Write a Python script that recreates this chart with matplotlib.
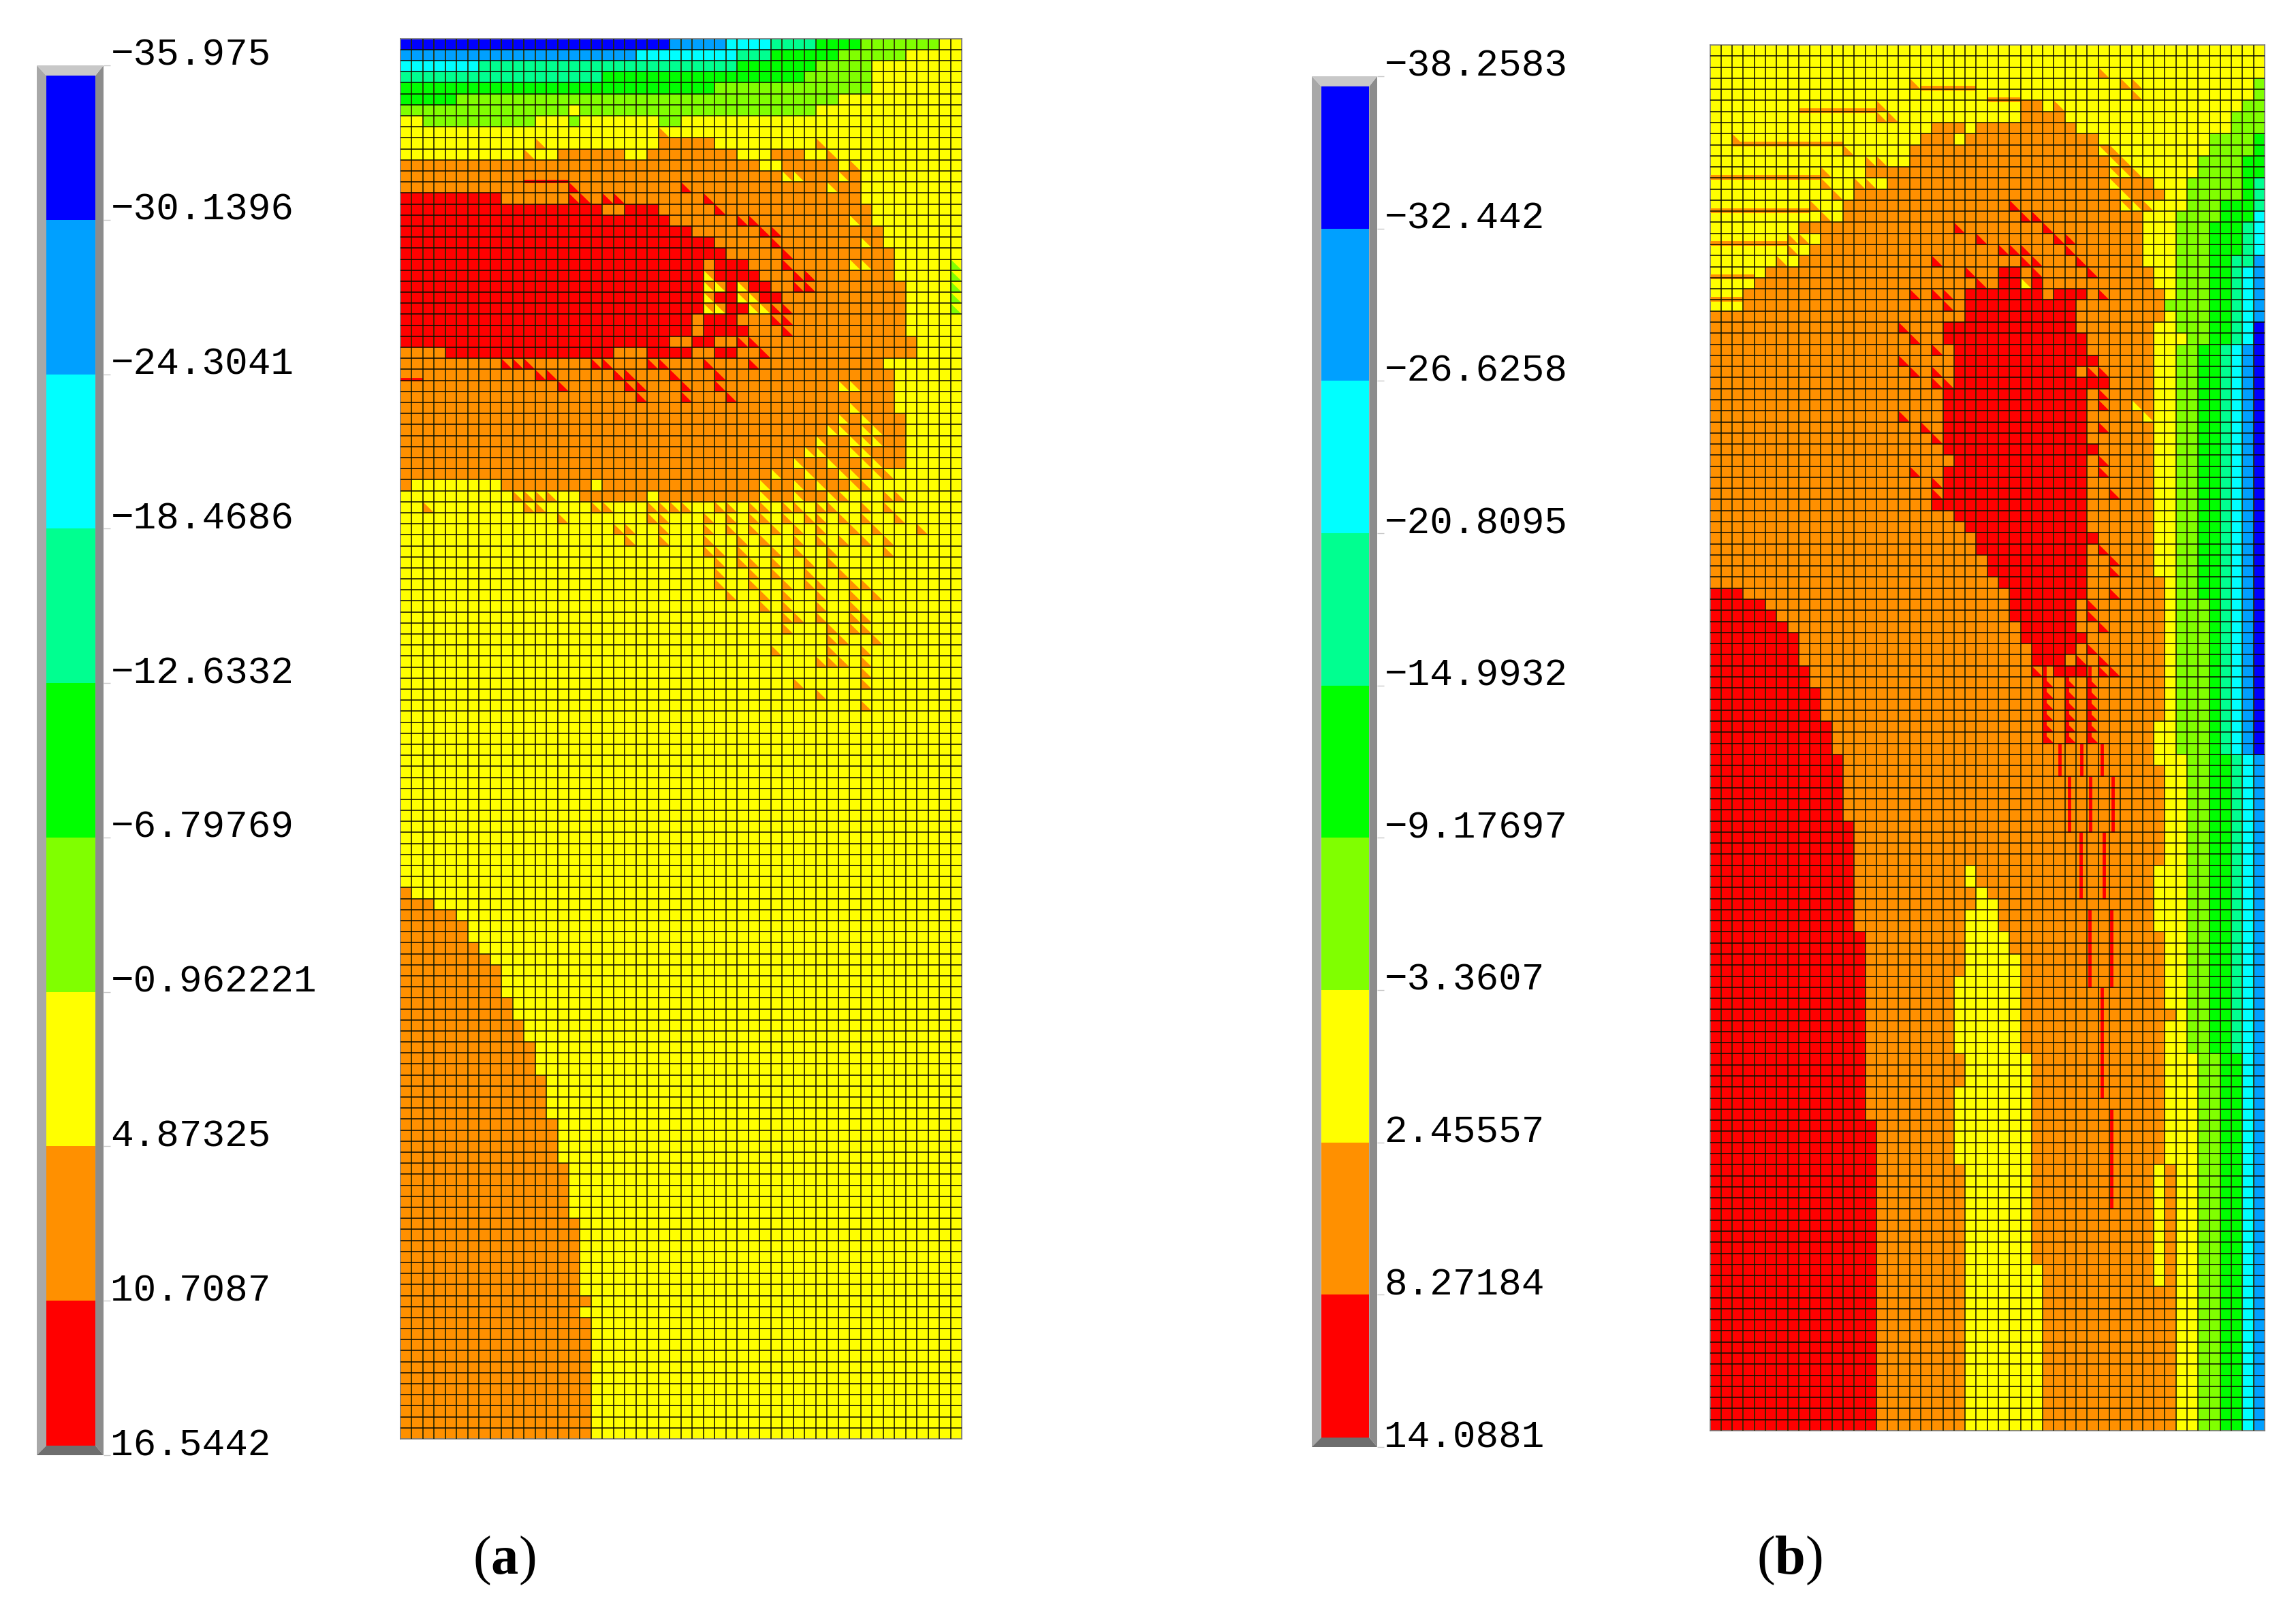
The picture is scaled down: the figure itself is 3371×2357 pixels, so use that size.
import numpy as np
import matplotlib
matplotlib.use("Agg")
import matplotlib.pyplot as plt
from matplotlib.colors import ListedColormap
from matplotlib.collections import PolyCollection

W, H = 3371, 2357

# Contour band codes, red (highest) to blue (lowest)
codes = "ROYLGSCAB"
band_colors = ["#ff0000", "#ff9000", "#ffff00", "#80ff00", "#00ff00",
               "#00ff90", "#00ffff", "#00a0ff", "#0000ff"]
# lower case run = cell with a corner wedge of that band on the given background
wedge_bg = {"r": "O", "o": "Y", "y": "O", "l": "Y"}

labels_a = ["\u221235.975", "\u221230.1396", "\u221224.3041", "\u221218.4686", "\u221212.6332",
            "\u22126.79769", "\u22120.962221", "4.87325", "10.7087", "16.5442"]
levels_a = [-35.975, -30.1396, -24.3041, -18.4686, -12.6332,
            -6.79769, -0.962221, 4.87325, 10.7087, 16.5442]
labels_b = ["\u221238.2583", "\u221232.442", "\u221226.6258", "\u221220.8095", "\u221214.9932",
            "\u22129.17697", "\u22123.3607", "2.45557", "8.27184", "14.0881"]
levels_b = [-38.2583, -32.442, -26.6258, -20.8095, -14.9932,
            -9.17697, -3.3607, 2.45557, 8.27184, 14.0881]

# Cell bands per mesh row, as runs from the left. Anything left over is yellow.
rows_a = [
    "B24 A5 C4 S4 G4 L7", "A21 C9 S3 G6 L6", "C7 S23 G7 L5", "S18 G18 L6", "G28 L14",
    "G5 L34", "L15 Y1 L21", "Y2 L10 Y3 L1 Y7 L2", "Y23 o1", "Y12 o1 Y10 O5 Y9 o1",
    "Y11 o1 Y2 O6 Y2 O8 Y3 O3 Y2 o1", "O32 Y2 O5 Y1 o1", "O34 y2 O3 y1 O1",
    "O15 r1 O9 r1 O12 y1 O2", "R9 O6 r2 O1 r2 O7 r1 O13",
    "R18 O2 R3 O5 r1 O13", "R24 O6 r2 O8 y1 O1", "R26 O6 r2 O9", "R28 O5 r1 O7 y1 O1",
    "R29 O5 r1 O9", "R27 O1 R3 O3 r1 O5 y2 O2 Y5 l1", "R27 y1 R4 O3 r2 O7 Y5 l1",
    "R27 y2 R1 y1 R2 O2 r2 O8 Y4 l1", "R27 y1 R2 y2 R2 O11 Y4 l1", "R27 y2 R2 y2 r2 O10 Y4 l1",
    "R26 O1 R3 O3 r2 O10", "R26 O1 R4 O3 r1 O10", "R24 O2 R2 O2 r2 O14",
    "O4 R15 O3 R4 O2 R2 O2 r1 O13", "O9 r3 O5 r2 O3 r2 O3 r1 O3 r1 O11",
    "O12 r2 O5 r2 O3 r1 O3 r1 O15", "O14 r1 O5 r2 O3 r1 O2 r1 O10 y2 O3",
    "O21 r1 O3 r1 O3 r1 O14", "O40 y1 O3", "O39 y1 O1 y1 O3", "O38 y2 O1 y2 O2",
    "O37 y1 O2 y3 O2", "O36 y2 O2 y2 O3", "O35 y1 O2 y1 O2 y2 O2",
    "O33 y1 O2 y1 O2 y2 O1 y1 o1",
    "O1 Y8 O8 Y1 O14 y1 O2 y1 O1 y1 O2 y1 o1",
    "Y10 o4 Y2 O6 Y1 O9 y1 O2 y1 O2 y1 o1 Y3 o2",
    "Y2 o1 Y8 o2 Y4 o2 Y3 o4 Y2 o2 Y1 o2 Y1 o2 Y1 o2 Y2 o1 Y1 o1",
    "Y14 o1 Y7 o2 Y3 o1 Y1 o1 Y1 o2 Y1 o1 Y1 o2 Y1 o1 Y1 o1 Y2 o1",
    "Y19 o2 Y2 o1 Y3 o1 Y1 o1 Y1 o1 Y1 o1 Y1 o1 Y1 o1 Y2 o1 Y1 o1 Y3 o1",
    "Y20 o1 Y2 o1 Y3 o1 Y2 o1 Y1 o1 Y2 o1 Y1 o1 Y1 o1 Y1 o1 Y1 o1",
    "Y27 o2 Y1 o1 Y2 o1 Y1 o1 Y2 o1 Y4 o1",
    "Y28 o1 Y1 o2 Y1 o1 Y2 o1 Y1 o1",
    "Y28 o1 Y2 o1 Y1 o1 Y2 o1 Y2 o1",
    "Y28 o1 Y2 o1 Y2 o1 Y1 o2 Y2 o2",
    "Y29 o1 Y2 o1 Y1 o1 Y2 o1 Y2 o1 Y1 o1",
    "Y32 o1 Y1 o1 Y2 o1 Y2 o1",
    "Y34 o2 Y1 o1 Y2 o2",
    "Y34 o1 Y3 o1 Y1 o2",
    "Y38 o2 Y2 o1",
    "Y33 o1 Y4 o1 Y2 o1",
    "Y37 o3 Y1 o1",
    "Y41 o1",
    "Y35 o1 Y5 o1",
    "Y37 o1",
    "Y41 o1",
] + ["Y50"] * 16 + [
    "O1", "O3", "O5", "O6", "O6", "O7", "O8", "O9", "O9", "O9", "O10", "O10", "O11", "O11", "O12",
    "O12", "O12", "O13", "O13", "O13", "O13", "O14", "O14", "O14", "O14", "O15", "O15", "O15", "O15", "O15",
    "O16", "O16", "O16", "O16", "O16", "O16", "O16", "O17", "O16",
] + ["O17"] * 11

rows_b = [
    "Y50", "Y50", "Y35 o1", "Y18 o1 Y18 o2", "Y38 o1", "Y15 o1 Y12 O2 Y1 o1", "Y15 o2 Y11 O4",
    "Y20 O3 Y1 O9", "Y2 o1 Y16 O3 Y1 O12", "Y12 o1 Y5 O17 y1 o1", "Y14 o2 Y2 O18 y1 o1",
    "Y10 o1 Y3 O22 y2 o1", "Y10 o1 Y2 o2 Y1 O20 y1 O3", "Y11 o1 Y1 O24 y1 O3",
    "Y9 o1 Y2 O15 r1 O9 y2 o1", "Y10 o1 Y1 O16 r2 O9", "Y8 O14 r1 O7 r1 O8",
    "Y7 o2 Y1 O14 r1 O6 r2 O6", "Y7 o1 Y1 O17 r3 O3 r1 O6", "Y6 o1 Y1 O12 r1 O7 r2 O3 r1 O5",
    "Y5 O18 r1 O2 R2 O1 r1 O4 r1 O5", "Y4 O20 r1 O1 R2 y1 R1 O10",
    "Y3 O15 r1 O1 r2 O1 R7 O1 R3 O1 r1 O5", "Y3 O18 r1 O1 R10 O8", "O23 R10 O8",
    "O17 r1 O3 R12 O7", "O18 r1 O2 R13 O6", "O20 r1 O1 R12 O6", "O17 r1 O4 R13 O5",
    "O18 r1 O1 r1 O1 R11 O1 r2 O4", "O20 r2 R14 O4", "O21 R13 O1 r1 O4", "O21 R13 O1 r1 O2 y1 O1",
    "O17 r1 O3 R13 O5 y1", "O19 r1 O1 R13 O1 r1 O4", "O20 r1 R13 O6", "O21 R14 O5",
    "O22 R12 O1 r1 O4", "O18 r1 O2 R13 O1 r1 O4", "O20 r1 R13 O6", "O20 r1 R13 O2 r1 O3",
    "O20 R14 O6", "O22 R12 O6", "O23 R11 O6", "O24 R11 O5", "O24 R10 O1 r1 O4",
    "O25 R9 O2 r1 O3", "O25 R9 O2 r1 O3", "O26 R8 O7",
    "R3 O24 R7 O2 r1 O4", "R5 O22 R6 O1 r1 O6", "R6 O21 R6 O1 r1 O6", "R7 O21 R5 O2 r1 O5",
    "R8 O20 R6 O7", "R8 O21 R4 O1 r1 O6", "R8 O21 R3 O1 r1 O1 r1 O5", "R9 O20 r1 O1 R3 O1 r2 O4",
    "R9 O21 r1 O1 r1 O1 r1 O6", "R10 O20 r1 O1 r1 O1 r1 O6", "R10 O20 r1 O1 r1 O1 r1 O6",
    "R10 O20 r1 O1 r1 O1 r1 O6", "R11 O19 r1 O1 r1 O1 r1 O5", "R11 O19 r1 O1 r1 O1 r1 O5",
    "R11 O29", "R12 O28", "R12 O29", "R12 O29", "R12 O29", "R12 O29", "R12 O29",
    "R13 O28", "R13 O28", "R13 O28", "R13 O28",
    "R13 O10 Y1 O16", "R13 O10 Y1 O16", "R13 O11 Y1 O15", "R13 O11 Y2 O14",
    "R13 O10 Y3 O14", "R13 O10 Y3 O14", "R14 O9 Y4 O14", "R14 O9 Y4 O14",
    "R14 O9 Y5 O13", "R14 O9 Y5 O13", "R14 O8 Y6 O13", "R14 O8 Y6 O13", "R14 O8 Y6 O13",
    "R14 O8 Y6 O14", "R14 O8 Y6 O13", "R14 O8 Y6 O13", "R14 O8 Y6 O13",
    "R14 O9 Y6 O12", "R14 O9 Y6 O12", "R14 O9 Y6 O12", "R14 O8 Y7 O12",
    "R14 O8 Y7 O12", "R14 O8 Y7 O12", "R15 O7 Y7 O12", "R15 O7 Y7 O12", "R15 O7 Y7 O12", "R15 O7 Y7 O12",
] + ["R15 O8 Y6 O11 Y1 O1"] * 8 + ["R15 O8 Y6 O11 Y1 O1", "R15 O8 Y7 O10 Y1 O1", "R15 O8 Y7 O10 Y1 O1"] + [
    "R15 O8 Y7 O12"] * 13

# Right hand bands of panel b, per row, as runs that end at the last column
right_b = (
    [""] * 3 + ["L1"] * 2 + ["L2"] + ["L3"] * 2 + ["L4 G1"] * 2 + ["L4 G2"] * 2 + ["L5 G1 S1"] * 2
    + ["L3 G3 S1"] + ["L4 G3 C1"] + ["L3 G3 S1 C1"] * 3 + ["L3 G2 S2 A1"] + ["L3 G2 S1 C1 A1"] * 3
    + ["L4 G2 S1 C1 A1"] + ["L3 G2 S1 C1 A1"] + ["L3 G2 S1 C1 B1"] + ["L2 G2 S1 C1 B1"]
    + ["L2 G2 S1 C1 A1 B1"] * 23 + ["L3 G1 S1 C1 A1 B1"] * 14
    + ["L2 G2 S1 C1 A1"] * 27 + ["L2 G2 C1 A1"] * 35
)

# Thin slivers of a band that run along a mesh line
a_red_edge, a_red_start, a_red_stop = [13, 31], [11, 0], [15, 2]
b_orange_edge = [4, 5, 6, 9, 12, 15, 18, 21, 23]
b_orange_start = [19, 25, 8, 2, 0, 0, 0, 0, 0]
b_orange_stop = [24, 28, 15, 12, 10, 9, 7, 4, 3]
b_red_col = [31.5, 33.5, 35.3, 32.4, 34.3, 36.3, 33.4, 35.5, 34.2, 36.2, 35.3, 36.2, 30.2, 32.2, 34.2]
b_red_start = [63, 63, 63, 66, 66, 66, 71, 71, 78, 78, 85, 96, 56, 56, 56]
b_red_stop = [66, 66, 66, 71, 71, 71, 77, 77, 85, 85, 95, 105, 63, 63, 63]


def px_axes(left, top, right, bottom):
    return fig.add_axes([left / W, 1 - bottom / H, (right - left) / W, (bottom - top) / H])


def build_grid(rows, right=None, ncols=50):
    grid = np.full((len(rows), ncols), codes.index("Y"))
    wedges = {}
    for i, row in enumerate(rows):
        col = 0
        for part in row.split():
            letter, n = part[0], int(part[1:])
            if letter.islower():
                grid[i, col:col + n] = codes.index(wedge_bg[letter])
                for c in range(col, min(col + n, ncols)):
                    wedges.setdefault(letter.upper(), []).append((i, c))
            else:
                grid[i, col:col + n] = codes.index(letter)
            col += n
        if right is not None and right[i]:
            tail = []
            for part in right[i].split():
                tail += [codes.index(part[0])] * int(part[1:])
            grid[i, ncols - len(tail):] = tail
    return grid, wedges


def draw_mesh(ax, grid, wedges):
    ny, nx = grid.shape
    ax.pcolormesh(np.arange(nx + 1), np.arange(ny + 1), grid, cmap=cmap, vmin=-0.5, vmax=8.5,
                  linewidth=0, antialiased=False)
    for code, cells in wedges.items():
        polys = [[(c, r), (c + 1, r + 1), (c, r + 1)] for r, c in cells]
        ax.add_collection(PolyCollection(polys, facecolors=band_colors[codes.index(code)],
                                         edgecolors="none", zorder=2))
    ax.set_xlim(0, nx)
    ax.set_ylim(ny, 0)
    ax.set_xticks([])
    ax.set_yticks([])
    for s in ax.spines.values():
        s.set_color("#777777")
        s.set_linewidth(1.2)


def draw_grid(ax, grid):
    ny, nx = grid.shape
    ax.vlines(np.arange(1, nx), 0, ny, color="#2a2a00", lw=1.25, zorder=5)
    ax.hlines(np.arange(1, ny), 0, nx, color="#0a0a00", lw=1.1, zorder=5)


def draw_colorbar(ax, levels, labels):
    x0, x1 = 0.143, 0.878
    t, b = 15 / 2041, 14 / 2041
    cells = np.arange(len(band_colors))[::-1].reshape(-1, 1)
    ax.pcolormesh([x0, x1], levels, cells, cmap=cmap, vmin=-0.5, vmax=8.5, antialiased=False)
    ax.set_xlim(0, 1)
    ax.set_ylim(levels[-1], levels[0])
    bevels = [([0, x0, x0, 0], [0, b, 1 - t, 1], "#a8a8a8"),
              ([1, x1, x1, 1], [0, b, 1 - t, 1], "#8c8c8c"),
              ([0, x0, x1, 1], [1, 1 - t, 1 - t, 1], "#c8c8c8"),
              ([0, x0, x1, 1], [0, b, b, 0], "#6e6e6e")]
    for xs, ys, c in bevels:
        ax.fill(xs, ys, color=c, transform=ax.transAxes, lw=0, clip_on=False)
    for s in ax.spines.values():
        s.set_visible(False)
    ax.set_xticks([])
    ax.yaxis.tick_right()
    ax.set_yticks(levels, labels, family="Liberation Mono", fontsize=40.3, color="black")
    ax.tick_params(axis="y", length=7, width=1, color="#c8c8c8", pad=0.5)
    for lab in ax.get_yticklabels():
        lab.set_verticalalignment("baseline")


plt.rcParams["mathtext.fontset"] = "custom"
plt.rcParams["mathtext.bf"] = "Liberation Serif:bold"
plt.rcParams["mathtext.rm"] = "Liberation Serif"
cmap = ListedColormap(band_colors)
fig = plt.figure(figsize=(W / 100, H / 100), dpi=100, facecolor="white")

grid_a, wedges_a = build_grid(rows_a)
grid_b, wedges_b = build_grid(rows_b, right_b)

ax_a = px_axes(587.7, 56.7, 1412, 2113)
draw_mesh(ax_a, grid_a, wedges_a)
ax_a.hlines(np.array(a_red_edge) - 0.1, a_red_start, a_red_stop, color="#ff0000", lw=3.5, zorder=3)
draw_grid(ax_a, grid_a)

ax_b = px_axes(2510.5, 66, 3325, 2101)
draw_mesh(ax_b, grid_b, wedges_b)
ax_b.hlines(np.array(b_orange_edge) - 0.1, b_orange_start, b_orange_stop, color="#ff9000", lw=5, zorder=3)
ax_b.vlines(b_red_col, b_red_start, b_red_stop, color="#ff0000", lw=3.5, zorder=3)
draw_grid(ax_b, grid_b)

draw_colorbar(px_axes(54, 96, 152, 2137), levels_a, labels_a)
draw_colorbar(px_axes(1926, 112, 2022, 2125), levels_b, labels_b)

for cx, name in [(740, "a"), (2627, "b")]:
    fig.text(cx / W, 1 - 2292 / H, "($\\mathbf{" + name + "}$)", family="Liberation Serif",
             fontsize=58, ha="center", va="center")

fig.savefig("out.png", dpi=100)
